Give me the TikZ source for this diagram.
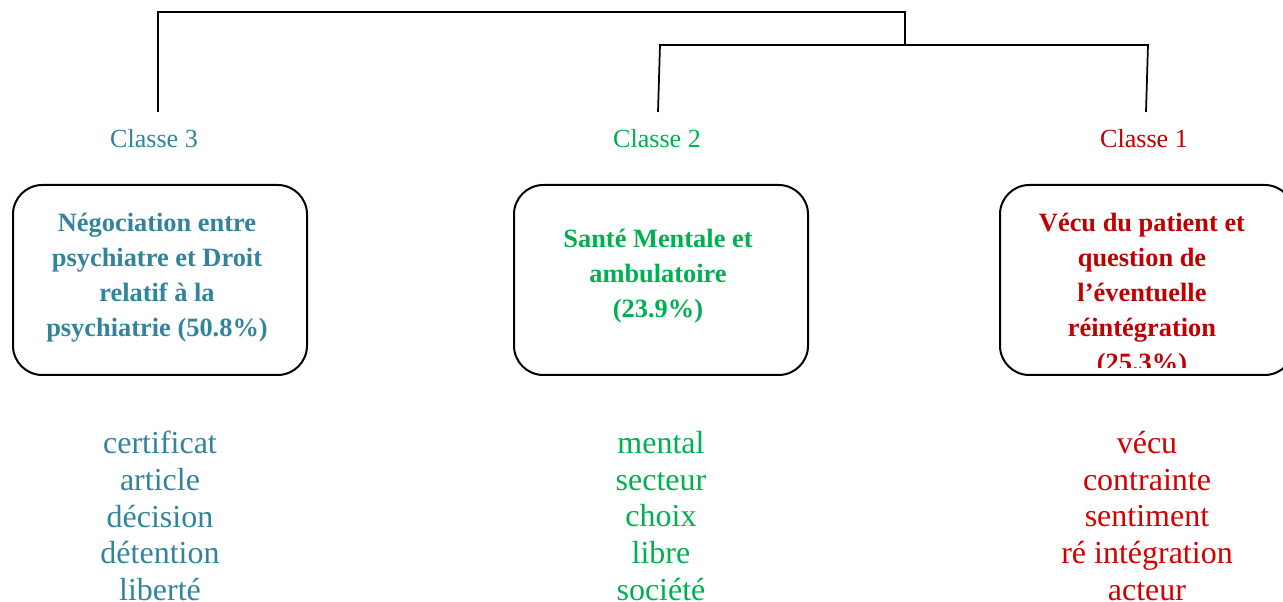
\documentclass[tikz,border=0pt]{standalone}
\usepackage{fontspec}
\setmainfont{Liberation Serif}
\definecolor{cteal}{HTML}{31849B}
\definecolor{cgreen}{HTML}{00B050}
\definecolor{cred}{HTML}{C00000}
\definecolor{credlight}{HTML}{D40000}
\begin{document}
\begin{tikzpicture}[x=0.75pt,y=-0.75pt,
  tree/.style={draw=black,line width=1.3pt},
  classbox/.style={draw=black,line width=1.5pt,rounded corners=22pt,
    minimum width=220.5pt,minimum height=142.5pt,inner sep=0pt},
  classtitle/.style={font=\fontsize{19.8}{26.3}\selectfont\bfseries,align=center,inner sep=0pt},
  classlabel/.style={font=\fontsize{19.6}{23}\selectfont,inner sep=0pt},
  wordlist/.style={font=\fontsize{24}{27.6}\selectfont,align=center,inner sep=0pt}]
\useasboundingbox (0,0) rectangle (1283,602);

% class labels
\node[classlabel,text=cteal] (l3) at (154,139) {Classe 3};
\node[classlabel,text=cgreen] (l2) at (657,139) {Classe 2};
\node[classlabel,text=cred] (l1) at (1144,139) {Classe 1};

% dendrogram joints
\coordinate (t3) at (158,112);
\coordinate (t2) at (658,112);
\coordinate (t1) at (1146,112);
\coordinate (j21) at (905,45);
\coordinate (root) at (905,12);

\draw[tree] (t3) -- (158,12) -- (root) -- (j21);
\draw[tree] (t2) -- (660,45) -- (1148,45) -- (t1);

% boxes
\node[classbox] (b3) at (160,280) {};
\node[classbox] (b2) at (661,280) {};
\node[classbox] (b1) at (1147,280) {};

\node[classtitle,text=cteal] (h3) at (157,278)
  {Négociation entre\\psychiatre et Droit\\relatif à la\\psychiatrie (50.8\%)};
\node[classtitle,text=cgreen] (h2) at (658,276)
  {Santé Mentale et\\ambulatoire\\(23.9\%)};
\begin{scope}
  \clip (1002,187) rectangle (1283,368);
  \node[classtitle,text=cred] (h1) at (1142,295)
    {Vécu du patient et\\question de\\l’éventuelle\\réintégration\\(25.3\%)};
\end{scope}

% characteristic words
\node[wordlist,text=cteal] (w3) at (160,516)
  {certificat\\article\\décision\\détention\\liberté};
\node[wordlist,text=cgreen] (w2) at (661,516)
  {mental\\secteur\\choix\\libre\\société};
\node[wordlist,text=credlight] (w1) at (1147,516)
  {vécu\\contrainte\\sentiment\\ré intégration\\acteur};
\end{tikzpicture}
\end{document}
